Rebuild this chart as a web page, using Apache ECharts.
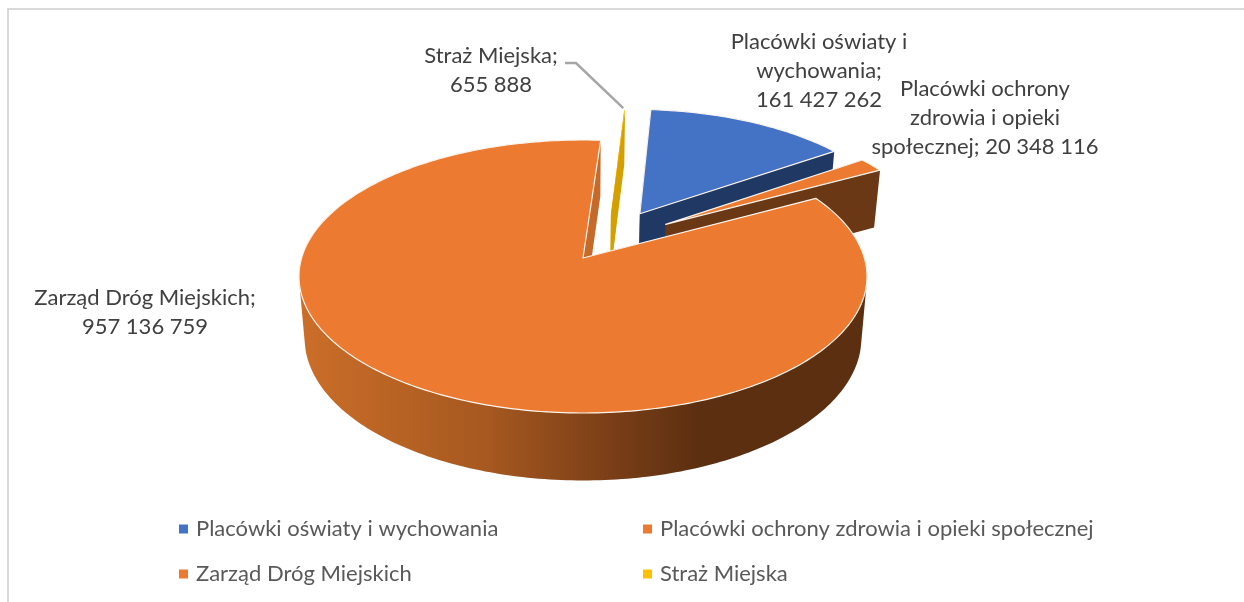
<!DOCTYPE html>
<html><head><meta charset="utf-8">
<style>html,body{margin:0;padding:0;background:#fff}#c{width:1244px;height:602px}</style>
<script src="https://cdn.jsdelivr.net/npm/echarts@6/dist/echarts.min.js"></script>
</head><body><div id="c"></div>
<script>
const categories = ['Placówki oświaty i wychowania','Placówki ochrony zdrowia i opieki społecznej','Zarząd Dróg Miejskich','Straż Miejska'];
const values = [161427262, 20348116, 957136759, 655888];
const labelLines = [['Placówki oświaty i','wychowania;'],['Placówki ochrony','zdrowia i opieki','społecznej; '],['Zarząd Dróg Miejskich;'],['Straż Miejska;']];

// styling & layout
const topColors = ['#4472c4','#ec7b31','#ec7b31','#ffc000'];
const faceColors = ['#203864','#6b3815','#c56a2a','#d4a000'];
const explode = [{d:.405,dir:31.5,r:.96},{d:.40,dir:49.5,r:.97},{d:0,dir:0,r:1},{d:.355,dir:17,r:.96}];
const labelPos = [{x:819,y:27},{x:985,y:74},{x:145,y:283},{x:491,y:41}];
const legendPos = [{left:179,top:518},{left:643,top:518},{left:179,top:563},{left:643,top:563}];
const drawOrder = [3,0,1,2];
const V = {cx:583,cy:258,rx:281.4,ry:134,p:.1355,shrink:.02,depth:61,start:4.3,wallFrom:100,wallTo:260};
const FONT = 'Lato, Carlito, sans-serif', FS = 22, LH = 29;

const total = values.reduce((a,b)=>a+b,0);
let acc = V.start;
const spans = values.map(v=>{const a=acc; acc+=v/total*360; return [a,acc];});
const rad = d=>d*Math.PI/180;
function proj(X,Y,Z){const s=1/(1-V.p*Y),k=1-V.shrink*Z;return [V.cx+V.rx*X*s*k,V.cy+V.ry*Y*s*k+V.depth*Z*s];}
function fmt(n){return String(n).replace(/\B(?=(\d{3})+$)/g,' ');}

const wallGrad = {type:'linear',global:true,x:300,y:0,x2:720,y2:0,colorStops:[
  {offset:0,color:'#cb6e29'},{offset:.45,color:'#a5581f'},{offset:.72,color:'#7d4018'},{offset:.95,color:'#5c2f10'},{offset:1,color:'#5c2f10'}]};

function renderSlice(i){
  const e=explode[i],ox=e.d*Math.sin(rad(e.dir)),oy=-e.d*Math.cos(rad(e.dir));
  const [a0,a1]=spans[i];
  const pt=(t,rho,Z)=>proj(ox+rho*e.r*Math.sin(rad(t)),oy-rho*e.r*Math.cos(rad(t)),Z);
  const arc=(from,to,Z)=>{const n=Math.max(2,Math.ceil(Math.abs(to-from))),o=[];for(let j=0;j<=n;j++)o.push(pt(from+(to-from)*j/n,1,Z));return o;};
  const face=t=>[pt(t,0,0),pt(t,1,0),pt(t,1,1),pt(t,0,1)];
  const kids=[];
  const poly=(points,style)=>kids.push({type:'polygon',shape:{points},style});
  poly(face(a0),{fill:faceColors[i]});
  poly(face(a1),{fill:faceColors[i]});
  // outer wall, only the part turned towards the viewer
  const w0=Math.max(a0,V.wallFrom),w1=Math.min(a1,V.wallTo);
  if(w1>w0) poly(arc(w0,w1,0).concat(arc(w1,w0,1)),{fill:i===2?wallGrad:faceColors[i]});
  const top=[pt(a0,0,0)].concat(arc(a0,a1,0));
  poly(top,i===3?{fill:topColors[i]}:{fill:topColors[i],stroke:'#fbf3ec',lineWidth:1.2,lineJoin:'round'});
  // data label
  const lines=labelLines[i].slice();
  const val=fmt(values[i]);
  if(lines[lines.length-1].endsWith('; ')) lines[lines.length-1]+=val; else lines.push(val);
  kids.push({type:'text',style:{text:lines.join('\n'),x:labelPos[i].x,y:labelPos[i].y,align:'center',verticalAlign:'top',
    font:FS+'px '+FONT,lineHeight:LH,fill:'#404040'}});
  if(i===3){
    const tip=pt(a0,1,0);
    kids.push({type:'polyline',shape:{points:[[565,63],[576,63],[tip[0]-1,tip[1]-2]]},style:{stroke:'#a6a6a6',lineWidth:2.5,fill:null}});
  }
  return {type:'group',children:kids};
}

const series=categories.map((name,i)=>({
  type:'custom',name,coordinateSystem:'none',z:2+drawOrder.indexOf(i),
  itemStyle:{color:topColors[i]},silent:true,
  data:[{name,value:values[i]}],
  renderItem:()=>renderSlice(i)
}));
const legend=categories.map((name,i)=>({
  data:[name],left:legendPos[i].left,top:legendPos[i].top,padding:0,icon:'rect',itemWidth:9,itemHeight:9,selectedMode:false,
  textStyle:{fontFamily:FONT,fontSize:FS,color:'#595959',padding:[0,0,0,3]}
}));
const chart=echarts.init(document.getElementById('c'));
chart.setOption({
  animation:false,backgroundColor:'#fff',legend,series,
  graphic:[{type:'polyline',silent:true,shape:{points:[[8,602],[8,9],[1244,9]]},style:{stroke:'#d9d9d9',lineWidth:2,fill:null}}]
});
</script></body></html>
